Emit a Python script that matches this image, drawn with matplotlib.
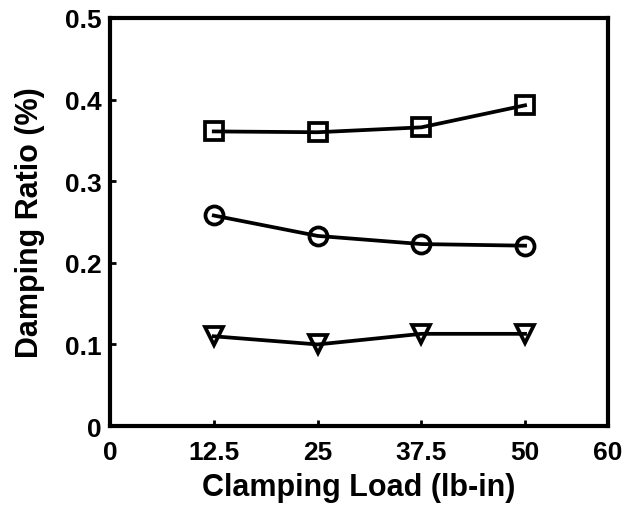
import matplotlib
matplotlib.use('Agg')
import matplotlib.pyplot as plt

# Clamping load (lb-in)
load = [12.5, 25, 37.5, 50]

# Damping ratio (%) for the three modes
mode_sq = [0.361, 0.360, 0.366, 0.393]
mode_ci = [0.258, 0.233, 0.223, 0.221]
mode_tr = [0.110, 0.100, 0.113, 0.113]

xticks = [0, 12.5, 25, 37.5, 50, 60]
xticklabels = ['0', '12.5', '25', '37.5', '50', '60']
yticks = [0, 0.1, 0.2, 0.3, 0.4, 0.5]
yticklabels = ['0', '0.1', '0.2', '0.3', '0.4', '0.5']

plt.rcParams['font.family'] = ['Liberation Sans', 'DejaVu Sans']
plt.rcParams['font.weight'] = 'bold'

fig = plt.figure(figsize=(6.23, 5.06), dpi=100)
ax = fig.add_axes([0.1766, 0.156, 0.7994, 0.8065])

style = dict(color='black', lw=2.7, markersize=13, markeredgewidth=2.7,
             markerfacecolor='none')
ax.plot(load, mode_sq, marker='s', **style)
ax.plot(load, mode_ci, marker='o', **style)
ax.plot(load, mode_tr, marker='v', **style)

ax.set_xlim(0, 60)
ax.set_ylim(0, 0.5)
ax.set_xticks(xticks)
ax.set_xticklabels(xticklabels)
ax.set_yticks(yticks)
ax.set_yticklabels(yticklabels)

ax.tick_params(direction='in', length=4, width=2, labelsize=19)
ax.tick_params(axis='x', pad=10)
ax.tick_params(axis='y', pad=6)
for s in ax.spines.values():
    s.set_linewidth(3)

ax.set_xlabel('Clamping Load (lb-in)', fontsize=22, fontweight='bold', labelpad=6)
ax.set_ylabel('Damping Ratio (%)', fontsize=22, fontweight='bold', labelpad=14)

fig.savefig('out.png', dpi=100)
